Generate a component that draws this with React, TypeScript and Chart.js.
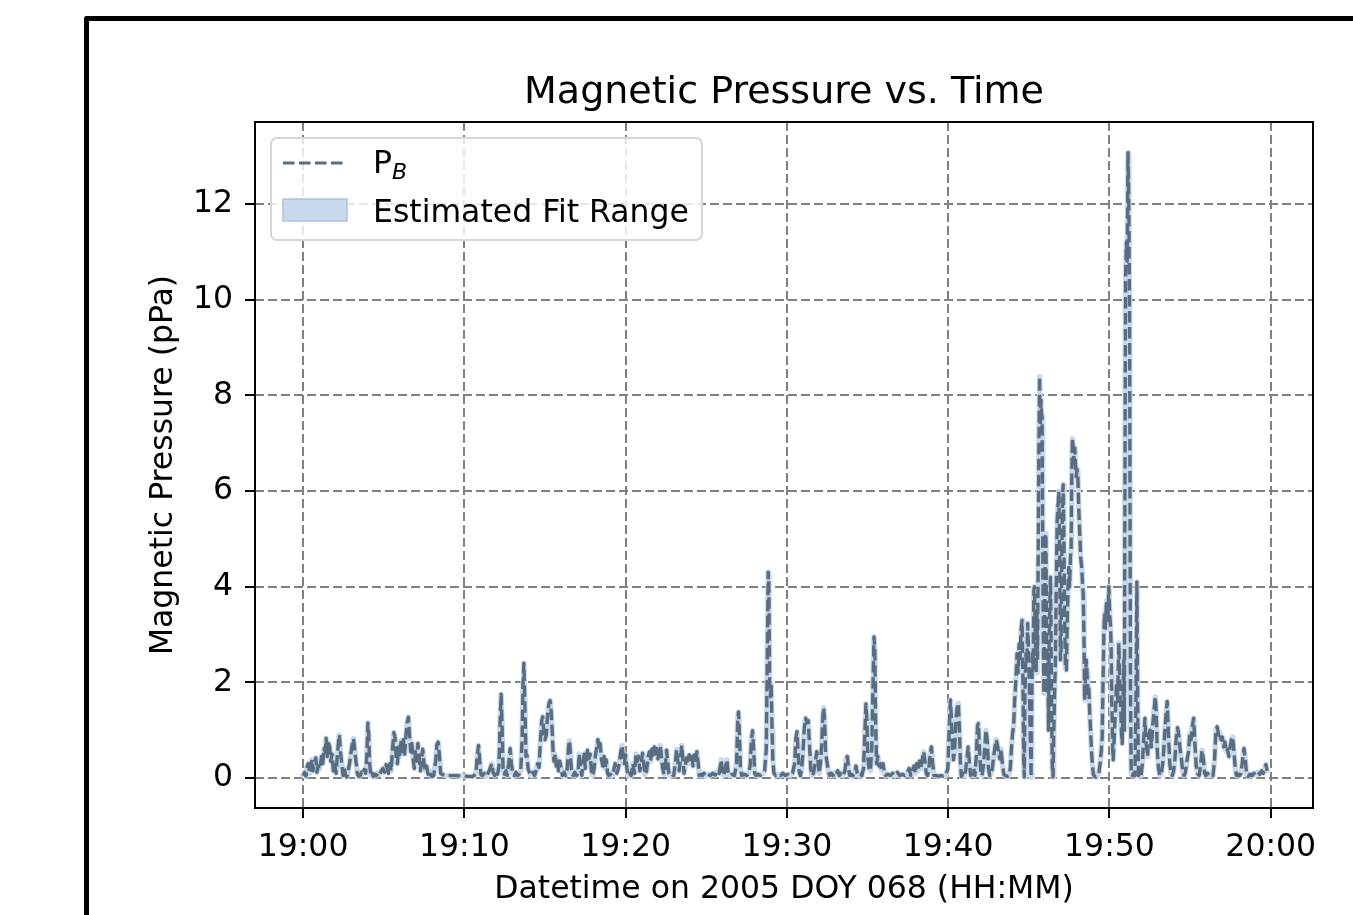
import React, { useEffect, useRef } from 'react';
import { Chart, registerables } from 'chart.js';

Chart.register(...registerables);

// Time in minutes after 19:00 (2005 DOY 068), magnetic pressure in pPa
const pressureSamples: number[][] = [
  [0.00, 0.05], [0.10, 0.12], [0.18, 0.04], [0.26, 0.25], [0.33, 0.30], [0.40, 0.10], [0.48, 0.22], [0.55, 0.38],
  [0.62, 0.15], [0.70, 0.32], [0.79, 0.42], [0.86, 0.12], [0.93, 0.25], [1.00, 0.18], [1.08, 0.30], [1.15, 0.45],
  [1.22, 0.30], [1.30, 0.62], [1.37, 0.55], [1.43, 0.83], [1.50, 0.45], [1.58, 0.72], [1.65, 0.65], [1.72, 0.35],
  [1.80, 0.50], [1.88, 0.15], [1.96, 0.28], [2.05, 0.10], [2.12, 0.45], [2.20, 0.78], [2.25, 0.90], [2.32, 0.55],
  [2.40, 0.30], [2.48, 0.05], [2.56, 0.20], [2.63, 0.08], [2.71, 0.02], [2.80, 0.15], [2.88, 0.30], [2.96, 0.50],
  [3.05, 0.70], [3.13, 0.82], [3.20, 0.60], [3.28, 0.35], [3.36, 0.10], [3.45, 0.03], [3.54, 0.05], [3.62, 0.12],
  [3.70, 0.08], [3.80, 0.18], [3.88, 0.10], [3.95, 0.45], [4.02, 1.15], [4.07, 0.90], [4.13, 0.30], [4.20, 0.05],
  [4.28, 0.10], [4.36, 0.03], [4.45, 0.08], [4.55, 0.05], [4.65, 0.12], [4.75, 0.08], [4.85, 0.15], [4.95, 0.20],
  [5.05, 0.12], [5.15, 0.28], [5.22, 0.20], [5.30, 0.10], [5.38, 0.30], [5.46, 0.15], [5.55, 0.60], [5.63, 0.95],
  [5.70, 0.85], [5.78, 0.40], [5.85, 0.30], [5.93, 0.65], [6.00, 0.45], [6.08, 0.78], [6.15, 0.55], [6.22, 0.80],
  [6.30, 0.50], [6.38, 0.90], [6.45, 1.15], [6.53, 1.27], [6.60, 0.90], [6.68, 0.55], [6.75, 0.72], [6.82, 0.40],
  [6.90, 0.20], [6.97, 0.55], [7.05, 0.35], [7.12, 0.72], [7.20, 0.45], [7.28, 0.15], [7.35, 0.40], [7.42, 0.60],
  [7.50, 0.30], [7.58, 0.15], [7.66, 0.25], [7.75, 0.08], [7.83, 0.15], [7.92, 0.05], [8.00, 0.03], [8.10, 0.05],
  [8.22, 0.35], [8.30, 0.70], [8.38, 0.75], [8.46, 0.45], [8.53, 0.10], [8.60, 0.08], [8.75, 0.06], [9.00, 0.05],
  [9.50, 0.05], [10.00, 0.04], [10.50, 0.03],
  [10.60, 0.05], [10.72, 0.10], [10.80, 0.45], [10.88, 0.68], [10.95, 0.40], [11.02, 0.08], [11.12, 0.05], [11.25, 0.10],
  [11.35, 0.04], [11.50, 0.12], [11.62, 0.22], [11.70, 0.30], [11.78, 0.12], [11.88, 0.05], [11.98, 0.15], [12.06, 0.08],
  [12.15, 0.25], [12.22, 1.20], [12.28, 1.75], [12.34, 1.10], [12.40, 0.20], [12.48, 0.08], [12.58, 0.15], [12.66, 0.05],
  [12.75, 0.30], [12.84, 0.62], [12.92, 0.30], [13.00, 0.10], [13.10, 0.05], [13.20, 0.12], [13.30, 0.05], [13.40, 0.08],
  [13.50, 0.15], [13.58, 0.80], [13.64, 2.00], [13.69, 2.40], [13.75, 1.60], [13.82, 0.45], [13.88, 0.48], [13.95, 0.20],
  [14.05, 0.10], [14.15, 0.05], [14.25, 0.12], [14.35, 0.05], [14.45, 0.15], [14.55, 0.30], [14.63, 0.22], [14.72, 0.80],
  [14.80, 1.20], [14.86, 1.28], [14.93, 0.95], [15.00, 0.80], [15.08, 0.90], [15.16, 1.30], [15.24, 1.55], [15.32, 1.62],
  [15.38, 1.40], [15.44, 1.05], [15.50, 0.55], [15.56, 0.35], [15.63, 0.50], [15.70, 0.25], [15.77, 0.40], [15.84, 0.15],
  [15.92, 0.35], [16.00, 0.20], [16.08, 0.05], [16.18, 0.12], [16.28, 0.05], [16.38, 0.20], [16.46, 0.65], [16.52, 0.78],
  [16.58, 0.50], [16.65, 0.10], [16.75, 0.05], [16.85, 0.12], [16.95, 0.05], [17.05, 0.10], [17.12, 0.50], [17.20, 0.25],
  [17.28, 0.05], [17.36, 0.30], [17.43, 0.50], [17.50, 0.20], [17.57, 0.45], [17.64, 0.58], [17.72, 0.40], [17.80, 0.50],
  [17.88, 0.15], [17.96, 0.05], [18.05, 0.20], [18.12, 0.45], [18.20, 0.62], [18.28, 0.80], [18.35, 0.60], [18.42, 0.72],
  [18.50, 0.40], [18.58, 0.25], [18.66, 0.45], [18.73, 0.20], [18.80, 0.38], [18.88, 0.10], [18.96, 0.05], [19.05, 0.08],
  [19.15, 0.05], [19.25, 0.15], [19.35, 0.30], [19.45, 0.10], [19.55, 0.20], [19.63, 0.35], [19.70, 0.55], [19.78, 0.68],
  [19.85, 0.45], [19.92, 0.30], [20.00, 0.48], [20.08, 0.20], [20.15, 0.05], [20.25, 0.10], [20.35, 0.05], [20.45, 0.30],
  [20.55, 0.10], [20.65, 0.50], [20.72, 0.35], [20.80, 0.45], [20.88, 0.15],
  [20.95, 0.25], [21.05, 0.52], [21.12, 0.30], [21.20, 0.08], [21.30, 0.15], [21.40, 0.45], [21.48, 0.55], [21.55, 0.35],
  [21.62, 0.60], [21.70, 0.48], [21.78, 0.65], [21.85, 0.50], [21.92, 0.62], [22.00, 0.40], [22.08, 0.55], [22.15, 0.68],
  [22.22, 0.45], [22.30, 0.20], [22.38, 0.08], [22.46, 0.25], [22.54, 0.58], [22.60, 0.35], [22.68, 0.10], [22.78, 0.05],
  [22.88, 0.08], [22.98, 0.05], [23.08, 0.30], [23.16, 0.60], [23.24, 0.35], [23.32, 0.15], [23.40, 0.40], [23.48, 0.68],
  [23.55, 0.40], [23.62, 0.10], [23.70, 0.25], [23.78, 0.42], [23.86, 0.30], [23.94, 0.48], [24.02, 0.35], [24.10, 0.45],
  [24.18, 0.25], [24.26, 0.48], [24.34, 0.30], [24.42, 0.55], [24.50, 0.30], [24.57, 0.05], [24.66, 0.08], [24.76, 0.05],
  [24.86, 0.10], [24.96, 0.04], [25.10, 0.08], [25.25, 0.05], [25.40, 0.10], [25.55, 0.06], [25.70, 0.15], [25.80, 0.10],
  [25.93, 0.38], [26.00, 0.15], [26.08, 0.05], [26.18, 0.20], [26.28, 0.38], [26.36, 0.10], [26.46, 0.05], [26.60, 0.08],
  [26.75, 0.05], [26.88, 0.30], [26.95, 1.20], [27.00, 1.38], [27.06, 0.90], [27.12, 0.20], [27.20, 0.05], [27.35, 0.08],
  [27.50, 0.05], [27.62, 0.10], [27.72, 0.25], [27.80, 0.80], [27.87, 0.99], [27.94, 0.60], [28.00, 0.10], [28.10, 0.05],
  [28.22, 0.08], [28.35, 0.05], [28.50, 0.10], [28.62, 0.15], [28.72, 0.60], [28.78, 2.40], [28.84, 4.30], [28.88, 4.10],
  [28.93, 2.00], [28.98, 1.70], [29.03, 1.95], [29.08, 1.00], [29.13, 0.35], [29.20, 0.10], [29.30, 0.05], [29.45, 0.08],
  [29.60, 0.05], [29.75, 0.10], [29.90, 0.05], [30.05, 0.08], [30.20, 0.05], [30.35, 0.10], [30.48, 0.30], [30.56, 0.85],
  [30.63, 0.97], [30.70, 0.50], [30.77, 0.12], [30.84, 0.05], [30.92, 0.20], [31.00, 0.55], [31.08, 1.05], [31.16, 1.25],
  [31.24, 1.15], [31.32, 1.20], [31.40, 0.70], [31.48, 0.20], [31.55, 0.05], [31.65, 0.10], [31.75, 0.30], [31.85, 0.55],
  [31.92, 0.40], [32.00, 0.10], [32.08, 0.30], [32.16, 0.70], [32.23, 1.30], [32.28, 1.47], [32.34, 1.20], [32.40, 0.50],
  [32.48, 0.35], [32.56, 0.15], [32.65, 0.05], [32.75, 0.10], [32.85, 0.05], [32.95, 0.12], [33.05, 0.08], [33.15, 0.15],
  [33.25, 0.05], [33.35, 0.10], [33.48, 0.05], [33.60, 0.15], [33.68, 0.40], [33.75, 0.45], [33.82, 0.20], [33.90, 0.05],
  [34.00, 0.08], [34.10, 0.05], [34.20, 0.12], [34.28, 0.25], [34.36, 0.10], [34.45, 0.05], [34.55, 0.08], [34.65, 0.05],
  [34.75, 0.20], [34.84, 1.00], [34.90, 1.55], [34.96, 1.20], [35.02, 0.40], [35.10, 0.20], [35.18, 0.15], [35.26, 0.60],
  [35.33, 1.80], [35.40, 2.95], [35.45, 2.70], [35.50, 1.20], [35.56, 0.30], [35.64, 0.45], [35.72, 0.25], [35.80, 0.30],
  [35.88, 0.15], [35.96, 0.30], [36.04, 0.12], [36.12, 0.05], [36.25, 0.08], [36.40, 0.05], [36.55, 0.10], [36.70, 0.05],
  [36.85, 0.12], [37.00, 0.05], [37.15, 0.08], [37.30, 0.05], [37.45, 0.10], [37.58, 0.20], [37.68, 0.05], [37.78, 0.15],
  [37.88, 0.25], [37.96, 0.10], [38.05, 0.30], [38.14, 0.15], [38.22, 0.35], [38.30, 0.20], [38.40, 0.40], [38.48, 0.55],
  [38.56, 0.35], [38.64, 0.10], [38.72, 0.05], [38.80, 0.20], [38.88, 0.50], [38.96, 0.65], [39.04, 0.30], [39.12, 0.05],
  [39.25, 0.05], [39.40, 0.04], [39.55, 0.05], [39.70, 0.04], [39.85, 0.05], [39.98, 0.20],
  [40.06, 1.00], [40.14, 1.63], [40.20, 1.25], [40.26, 0.70], [40.33, 0.38], [40.40, 0.60], [40.48, 1.20], [40.56, 1.50],
  [40.63, 1.56], [40.70, 1.00], [40.76, 0.30], [40.82, 0.03], [40.90, 0.10], [41.00, 0.05], [41.08, 0.15], [41.16, 0.40],
  [41.24, 0.65], [41.32, 0.30], [41.40, 0.05], [41.50, 0.10], [41.58, 0.20], [41.66, 0.05], [41.74, 0.45], [41.82, 1.10],
  [41.88, 1.14], [41.94, 0.60], [42.02, 0.15], [42.10, 0.05], [42.18, 0.25], [42.26, 0.60], [42.34, 1.00], [42.42, 0.80],
  [42.50, 0.20], [42.58, 0.05], [42.66, 0.10], [42.74, 0.20], [42.82, 0.45], [42.90, 0.65], [42.98, 0.80], [43.05, 0.70],
  [43.12, 0.55], [43.20, 0.40], [43.28, 0.60], [43.36, 0.30], [43.45, 0.08], [43.55, 0.05], [43.65, 0.03], [43.75, 0.05],
  [43.85, 0.20], [43.92, 0.60], [43.98, 0.90],
  [44.06, 1.10], [44.12, 1.60], [44.20, 2.05], [44.27, 2.60], [44.34, 2.20], [44.40, 2.80], [44.46, 2.50], [44.52, 3.10],
  [44.58, 3.30], [44.63, 2.20], [44.68, 0.40], [44.72, 0.02], [44.76, 1.80], [44.82, 2.60], [44.88, 2.40], [44.93, 3.23],
  [44.98, 2.60], [45.03, 2.00], [45.08, 1.00], [45.14, 0.02], [45.18, 1.50], [45.22, 2.60], [45.27, 2.30], [45.31, 3.93],
  [45.35, 4.00], [45.40, 3.00], [45.45, 2.20], [45.50, 3.40], [45.54, 2.50], [45.58, 4.60], [45.62, 6.80], [45.67, 8.39],
  [45.71, 7.20], [45.75, 7.90], [45.79, 7.60], [45.82, 7.55], [45.86, 5.00], [45.90, 3.00], [45.93, 1.77], [45.97, 3.20],
  [46.02, 5.05], [46.06, 5.11], [46.10, 3.00], [46.14, 1.77], [46.18, 2.60], [46.22, 1.00], [46.26, 2.80], [46.30, 3.60],
  [46.34, 4.20], [46.38, 3.00], [46.42, 1.20], [46.46, 0.20], [46.50, 0.02], [46.54, 0.80], [46.60, 1.80], [46.65, 2.47],
  [46.70, 4.00], [46.76, 5.40], [46.81, 5.70], [46.86, 5.99], [46.91, 4.80], [46.96, 2.47], [47.00, 2.60], [47.04, 4.50],
  [47.09, 5.90], [47.13, 6.13], [47.17, 5.20], [47.22, 3.40], [47.27, 2.30], [47.33, 2.26], [47.38, 3.20], [47.43, 4.00],
  [47.48, 4.40], [47.53, 4.00], [47.58, 4.60], [47.62, 4.80], [47.66, 6.20], [47.70, 7.10], [47.75, 6.90], [47.80, 6.60],
  [47.85, 6.90], [47.89, 6.60], [47.94, 6.30], [47.99, 6.45], [48.04, 6.30], [48.09, 5.70], [48.16, 5.10], [48.22, 4.60],
  [48.28, 4.40], [48.34, 4.00], [48.37, 3.86], [48.42, 3.00], [48.46, 1.63], [48.51, 2.10], [48.56, 2.47], [48.61, 2.20],
  [48.66, 1.77], [48.72, 1.90], [48.77, 1.40], [48.82, 1.07], [48.88, 0.60], [48.94, 0.30], [49.00, 0.08], [49.08, 0.03],
  [49.16, 0.02], [49.24, 0.05], [49.34, 0.10], [49.42, 0.30], [49.50, 0.60], [49.55, 0.86], [49.60, 2.00], [49.65, 3.00],
  [49.69, 3.44], [49.74, 3.10], [49.80, 3.60], [49.85, 3.72], [49.90, 3.30], [49.96, 4.00], [50.02, 3.40], [50.06, 3.20],
  [50.10, 2.82], [50.15, 1.50], [50.20, 0.60], [50.23, 0.38], [50.30, 0.90], [50.37, 1.42], [50.44, 2.00], [50.50, 1.60],
  [50.55, 2.40], [50.58, 2.82], [50.64, 2.00], [50.70, 1.40], [50.75, 0.90], [50.79, 0.72], [50.84, 1.60], [50.89, 2.47],
  [50.92, 1.00], [50.95, 5.00], [51.00, 10.50], [51.05, 11.20], [51.10, 10.80], [51.15, 13.07], [51.20, 12.00], [51.25, 9.50],
  [51.30, 2.00], [51.35, 0.10], [51.42, 0.05], [51.50, 0.10], [51.58, 0.05], [51.64, 1.50], [51.70, 4.10], [51.75, 1.50],
  [51.80, 0.05], [51.88, 0.10], [51.96, 0.05], [52.04, 0.30], [52.12, 0.80], [52.20, 1.25], [52.28, 0.70], [52.36, 0.45],
  [52.44, 0.90], [52.52, 1.00], [52.60, 0.65], [52.68, 1.10], [52.76, 1.40], [52.84, 1.70], [52.90, 1.40], [52.96, 0.60],
  [53.04, 0.20], [53.12, 0.05], [53.22, 0.10], [53.32, 0.35], [53.42, 0.90], [53.50, 1.30], [53.58, 1.60], [53.66, 0.90],
  [53.74, 0.30], [53.82, 0.10], [53.90, 0.05], [53.98, 0.15], [54.06, 0.40], [54.14, 0.85], [54.22, 1.05], [54.30, 0.90],
  [54.38, 0.60], [54.46, 0.40], [54.54, 0.15], [54.62, 0.05], [54.70, 0.10], [54.80, 0.35], [54.90, 0.55], [54.98, 0.93],
  [55.06, 0.80], [55.14, 1.10], [55.22, 1.25], [55.30, 0.70], [55.38, 0.25], [55.46, 0.10], [55.56, 0.05], [55.66, 0.30],
  [55.74, 0.58], [55.82, 0.40], [55.90, 0.10], [55.98, 0.05], [56.08, 0.10], [56.18, 0.05], [56.30, 0.08], [56.42, 0.05],
  [56.52, 0.40], [56.60, 1.00], [56.68, 1.07], [56.76, 0.90], [56.84, 0.95], [56.92, 0.80], [57.00, 0.85], [57.08, 0.65],
  [57.16, 0.75], [57.24, 0.55], [57.32, 0.60], [57.40, 0.45], [57.48, 0.65], [57.56, 0.80], [57.64, 0.86], [57.72, 0.55],
  [57.80, 0.20], [57.88, 0.05], [57.96, 0.08], [58.06, 0.05], [58.16, 0.10], [58.26, 0.40], [58.34, 0.62], [58.42, 0.40],
  [58.50, 0.10], [58.60, 0.03], [58.72, 0.08], [58.84, 0.05], [58.96, 0.10], [59.08, 0.06], [59.20, 0.12], [59.32, 0.08],
  [59.44, 0.15], [59.54, 0.10], [59.62, 0.20], [59.70, 0.28], [59.78, 0.15],
];

const xTickMinutes = [0, 10, 20, 30, 40, 50, 60];
const xTickLabels = ['19:00', '19:10', '19:20', '19:30', '19:40', '19:50', '20:00'];
const yTickValues = [0, 2, 4, 6, 8, 10, 12];

const xRange = [-2.98, 62.62];
const yRange = [-0.627, 13.714];

const FONT = '"DejaVu Sans", "Liberation Sans", sans-serif';
const LINE_COLOR = '#5a6d80';
const BAND_COLOR = '#c7d9ea';
const LINE_DASH = [11.5, 4.5];
const LABEL_SIZE = 31.5;

const decorPlugin = {
  id: 'decor',
  beforeDraw(chart: any) {
    const ctx = chart.ctx;
    ctx.save();
    ctx.fillStyle = '#ffffff';
    ctx.fillRect(0, 0, chart.width, chart.height);
    ctx.lineWidth = 5;
    ctx.strokeStyle = '#000000';
    ctx.lineJoin = 'round';
    ctx.strokeRect(86.5, 18.5, 3000, 3000);
    ctx.restore();
  },
  afterDatasetsDraw(chart: any) {
    const { ctx, chartArea: a } = chart;
    ctx.save();
    ctx.lineWidth = 2;
    ctx.strokeStyle = '#000000';
    ctx.setLineDash([]);
    ctx.strokeRect(a.left, a.top, a.right - a.left, a.bottom - a.top);
    ctx.restore();
  },
  afterDraw(chart: any) {
    const { ctx, chartArea: a } = chart;
    const bx = a.left + 16;
    const by = a.top + 16;
    const bw = 431;
    const bh = 102;
    ctx.save();
    ctx.beginPath();
    ctx.roundRect(bx, by, bw, bh, 6);
    ctx.fillStyle = 'rgba(255,255,255,0.8)';
    ctx.fill();
    ctx.lineWidth = 2;
    ctx.strokeStyle = '#d6d6d6';
    ctx.stroke();

    // P_B line sample
    ctx.beginPath();
    ctx.setLineDash(LINE_DASH);
    ctx.lineWidth = 3;
    ctx.strokeStyle = LINE_COLOR;
    ctx.moveTo(bx + 12, by + 25);
    ctx.lineTo(bx + 75, by + 25);
    ctx.stroke();
    ctx.setLineDash([]);

    // Fit range patch
    ctx.fillStyle = BAND_COLOR;
    ctx.fillRect(bx + 12, by + 61, 64, 22);
    ctx.lineWidth = 1.5;
    ctx.strokeStyle = '#a9c4de';
    ctx.strokeRect(bx + 12, by + 61, 64, 22);

    ctx.fillStyle = '#000000';
    ctx.textBaseline = 'alphabetic';
    ctx.textAlign = 'left';
    ctx.font = `${LABEL_SIZE}px ${FONT}`;
    ctx.fillText('P', bx + 102, by + 35);
    const pw = ctx.measureText('P').width;
    ctx.font = `italic 22px ${FONT}`;
    ctx.fillText('B', bx + 102 + pw, by + 41);
    ctx.font = `${LABEL_SIZE}px ${FONT}`;
    ctx.fillText('Estimated Fit Range', bx + 102, by + 84);
    ctx.restore();
  },
};

export default function App() {
  const canvasRef = useRef<HTMLCanvasElement | null>(null);

  useEffect(() => {
    if (!canvasRef.current) return;
    const points = pressureSamples.map(([t, v]) => ({ x: t, y: v }));
    const gridCommon = {
      color: '#808080',
      lineWidth: 2,
      drawTicks: true,
      tickLength: 10,
      tickColor: '#000000',
      tickWidth: 2,
      tickBorderDash: [],
    };
    const chart = new Chart(canvasRef.current, {
      type: 'line',
      data: {
        datasets: [
          {
            label: 'P_B',
            data: points,
            borderColor: LINE_COLOR,
            borderWidth: 3.4,
            borderDash: LINE_DASH,
            borderJoinStyle: 'round',
            pointRadius: 0,
            tension: 0,
            fill: false,
            order: 1,
          },
          {
            label: 'Estimated Fit Range',
            data: points,
            borderColor: BAND_COLOR,
            borderWidth: 5.5,
            borderJoinStyle: 'round',
            borderCapStyle: 'round',
            pointRadius: 0,
            tension: 0,
            fill: false,
            order: 2,
          },
        ],
      },
      options: {
        responsive: false,
        animation: false,
        devicePixelRatio: 1,
        parsing: false,
        normalized: true,
        layout: { padding: { left: 0, right: 40, top: 0, bottom: 0 } },
        plugins: {
          legend: { display: false },
          tooltip: { enabled: false },
          title: {
            display: true,
            fullSize: false,
            text: 'Magnetic Pressure vs. Time',
            color: '#000000',
            font: { family: FONT, size: 38, weight: 'normal' },
            padding: { top: 70, bottom: 6.4 },
          },
        },
        scales: {
          x: {
            type: 'linear',
            min: xRange[0],
            max: xRange[1],
            afterBuildTicks: (scale: any) => {
              scale.ticks = xTickMinutes.map((v) => ({ value: v }));
            },
            afterFit: (scale: any) => {
              scale.height = 107;
            },
            ticks: {
              autoSkip: false,
              maxRotation: 0,
              padding: 11,
              color: '#000000',
              font: { family: FONT, size: LABEL_SIZE },
              callback: (_v: any, i: number) => xTickLabels[i],
            },
            grid: gridCommon,
            border: { display: false, dash: [9, 4] },
            title: {
              display: true,
              text: 'Datetime on 2005 DOY 068 (HH:MM)',
              color: '#000000',
              font: { family: FONT, size: LABEL_SIZE },
              padding: { top: 0, bottom: 6 },
            },
          },
          y: {
            type: 'linear',
            min: yRange[0],
            max: yRange[1],
            afterBuildTicks: (scale: any) => {
              scale.ticks = yTickValues.map((v) => ({ value: v }));
            },
            afterFit: (scale: any) => {
              scale.width = 255;
            },
            ticks: {
              padding: 12,
              color: '#000000',
              font: { family: FONT, size: LABEL_SIZE },
              callback: (v: any) => String(v),
            },
            grid: gridCommon,
            border: { display: false, dash: [9, 4] },
            title: {
              display: true,
              text: 'Magnetic Pressure (pPa)',
              color: '#000000',
              font: { family: FONT, size: LABEL_SIZE },
              padding: { top: 145, bottom: 0 },
            },
          },
        },
      },
      plugins: [decorPlugin],
    } as any);
    return () => chart.destroy();
  }, []);

  return (
    <div style={{ position: 'absolute', left: 0, top: 0, width: 1353, height: 915, overflow: 'hidden' }}>
      <canvas ref={canvasRef} width={1353} height={915} style={{ width: 1353, height: 915, display: 'block' }} />
    </div>
  );
}
